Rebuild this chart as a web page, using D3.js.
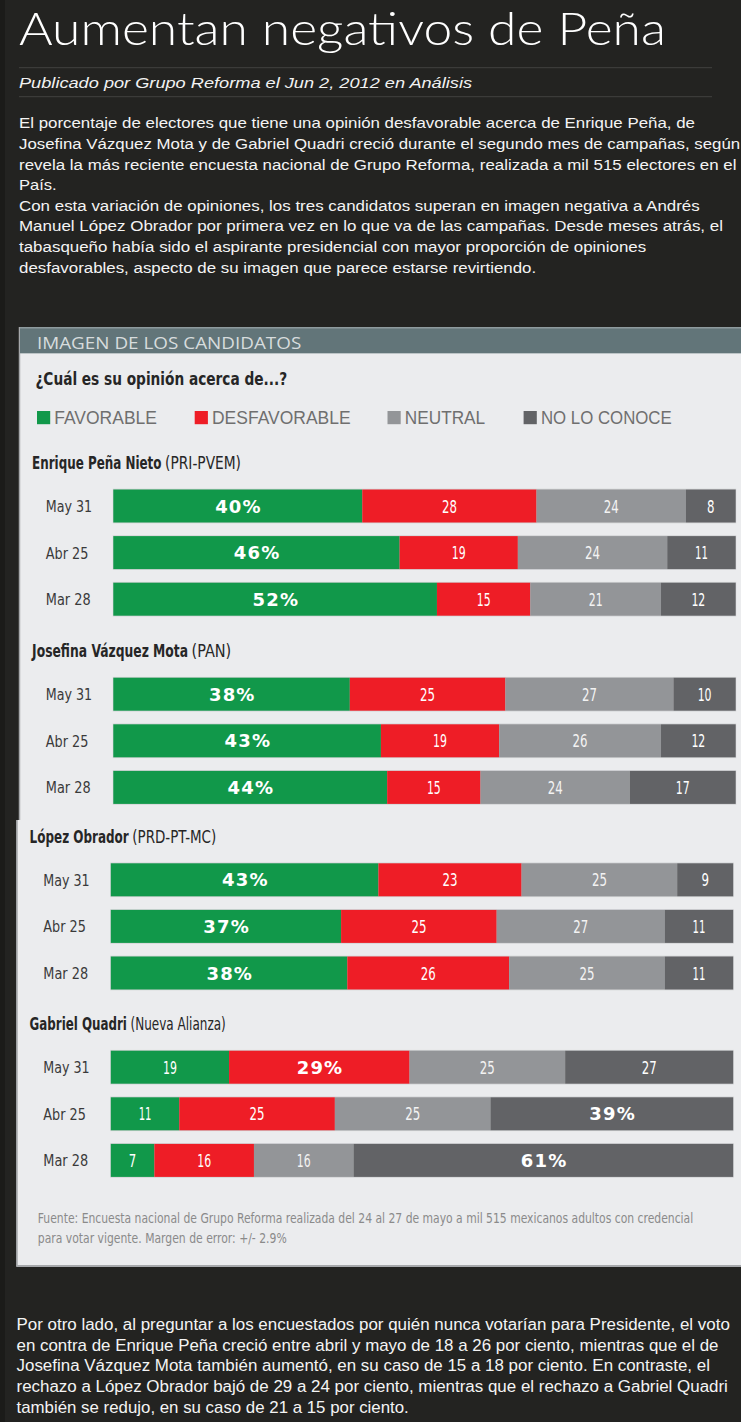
<!DOCTYPE html>
<html>
<head>
<meta charset="utf-8">
<script src="https://cdn.jsdelivr.net/npm/d3@7"></script>
<style>
  body { margin: 0; background: #232321; overflow: hidden; }
</style>
</head>
<body>
<script>
// ---- data ----
var candidates = ["Enrique Peña Nieto", "Josefina Vázquez Mota", "López Obrador", "Gabriel Quadri"];
var parties = ["(PRI-PVEM)", "(PAN)", "(PRD-PT-MC)", "(Nueva Alianza)"];
var dates = ["May 31", "Abr 25", "Mar 28"];
var categories = ["FAVORABLE", "DESFAVORABLE", "NEUTRAL", "NO LO CONOCE"];
// one row per candidate, values in the order of dates
var favorable    = [[40, 46, 52], [38, 43, 44], [43, 37, 38], [19, 11, 7]];
var desfavorable = [[28, 19, 15], [25, 19, 15], [23, 25, 26], [29, 25, 16]];
var neutral      = [[24, 24, 21], [27, 26, 24], [25, 27, 25], [25, 25, 16]];
var noLoConoce   = [[8, 11, 12], [10, 12, 17], [9, 11, 11], [27, 39, 61]];

var title = "Aumentan negativos de Peña";
var byline = "Publicado por Grupo Reforma el Jun 2, 2012 en Análisis";
var intro = [
  "El porcentaje de electores que tiene una opinión desfavorable acerca de Enrique Peña, de",
  "Josefina Vázquez Mota y de Gabriel Quadri creció durante el segundo mes de campañas, según",
  "revela la más reciente encuesta nacional de Grupo Reforma, realizada a mil 515 electores en el",
  "País.",
  "Con esta variación de opiniones, los tres candidatos superan en imagen negativa a Andrés",
  "Manuel López Obrador por primera vez en lo que va de las campañas. Desde meses atrás, el",
  "tabasqueño había sido el aspirante presidencial con mayor proporción de opiniones",
  "desfavorables, aspecto de su imagen que parece estarse revirtiendo."
];
var outro = [
  "Por otro lado, al preguntar a los encuestados por quién nunca votarían para Presidente, el voto",
  "en contra de Enrique Peña creció entre abril y mayo de 18 a 26 por ciento, mientras que el de",
  "Josefina Vázquez Mota también aumentó, en su caso de 15 a 18 por ciento. En contraste, el",
  "rechazo a López Obrador bajó de 29 a 24 por ciento, mientras que el rechazo a Gabriel Quadri",
  "también se redujo, en su caso de 21 a 15 por ciento."
];
var source = [
  "Fuente: Encuesta nacional de Grupo Reforma realizada del 24 al 27 de mayo a mil 515 mexicanos adultos con credencial",
  "para votar vigente. Margen de error: +/- 2.9%"
];

// ---- layout ----
var W = 741, H = 1422;
var colors = ["#11984a", "#ee1d26", "#939598", "#626366"];
var NARROW = "'Liberation Sans Narrow','Arial Narrow','DejaVu Sans Condensed','Liberation Sans',sans-serif";
var SANS = "'Liberation Sans',Arial,sans-serif";

var sectionTop = [489.5, 677.7, 863.3, 1050.7];
var sectionDx = [0, 0, -2.5, -2.5];   // the lower half of the clipping sits a bit to the left
var nameW = [129.5, 156, 99.2, 97.4];
var partyW = [76, 39.7, 84, 95.4];
var dateW = { "May 31": 46.4, "Abr 25": 42.6, "Mar 28": 44.9 };
var introW = [676.6, 721.5, 718, 37.7, 681, 705, 627.5, 517.4];
var outroW = [713.5, 702.5, 693.5, 711.5, 392.5];
var sourceW = [656, 249];

var svg = d3.select("body").append("svg")
  .attr("width", W)
  .attr("height", H)
  .style("display", "block");

// squeeze a text horizontally so it spans w pixels (w may be a function of d, i)
function fit(sel, w) {
  sel.each(function(d, i) {
    var t = d3.select(this);
    var x0 = +t.attr("x"), y0 = +t.attr("y");
    var target = typeof w === "function" ? w(d, i) : w;
    var k = target / this.getComputedTextLength();
    t.attr("x", 0).attr("y", 0)
      .attr("transform", "translate(" + x0 + "," + y0 + ") scale(" + k + ",1)");
  });
  return sel;
}

// page
svg.append("rect").attr("width", W).attr("height", H).attr("fill", "#232321");
svg.append("rect").attr("width", 5).attr("height", H).attr("fill", "#1b1b19");

// title block
fit(svg.append("text")
  .attr("x", 19).attr("y", 45)
  .style("font-family", "Lato,'Open Sans',sans-serif")
  .style("font-weight", 300)
  .style("font-size", "45.5px")
  .style("fill", "#ffffff")
  .text(title), 647);

[67.7, 96.7].forEach(function(y) {
  svg.append("line")
    .attr("x1", 19).attr("x2", 712)
    .attr("y1", y).attr("y2", y)
    .style("stroke", "#3b3b39")
    .style("stroke-width", 1.2);
});

fit(svg.append("text")
  .attr("x", 19).attr("y", 88)
  .style("font-family", SANS)
  .style("font-style", "italic")
  .style("font-size", "15px")
  .style("fill", "#f2f2f2")
  .text(byline), 453.6);

fit(svg.append("g").selectAll("text")
  .data(intro)
  .enter().append("text")
    .attr("x", 19)
    .attr("y", function(d, i) { return 128.3 + i * 20.6; })
    .style("font-family", SANS)
    .style("font-size", "14.5px")
    .style("fill", "#f4f4f4")
    .text(function(d) { return d; }),
  function(d, i) { return introW[i]; });

// ---- panel ----
var panelFill = "#ebecee";
var panelEdge = "#a6a8ab";

svg.append("rect")
  .attr("x", 19).attr("y", 327)
  .attr("width", W).attr("height", 820 - 327)
  .attr("fill", panelFill);
svg.append("rect")
  .attr("x", 16.5).attr("y", 820)
  .attr("width", W).attr("height", 1266.5 - 820)
  .attr("fill", panelFill);
svg.append("line")
  .attr("x1", 19.5).attr("x2", 19.5).attr("y1", 327).attr("y2", 820)
  .style("stroke", panelEdge).style("stroke-width", 1.5);
svg.append("line")
  .attr("x1", 17).attr("x2", 17).attr("y1", 820).attr("y2", 1266.5)
  .style("stroke", panelEdge).style("stroke-width", 1.5);
svg.append("line")
  .attr("x1", 16.5).attr("x2", W).attr("y1", 1266).attr("y2", 1266)
  .style("stroke", panelEdge).style("stroke-width", 2);

// header strip
svg.append("rect")
  .attr("x", 20).attr("y", 327)
  .attr("width", W).attr("height", 26.5)
  .attr("fill", "#8e9b9e");
svg.append("rect")
  .attr("x", 20).attr("y", 328.5)
  .attr("width", W).attr("height", 24.5)
  .attr("fill", "#627579");
fit(svg.append("text")
  .attr("x", 36.9).attr("y", 348.7)
  .style("font-family", "'Open Sans',sans-serif")
  .style("font-weight", 500)
  .style("font-size", "17px")
  .style("fill", "#d7dcdd")
  .text("IMAGEN DE LOS CANDIDATOS"), 264.6);

fit(svg.append("text")
  .attr("x", 35.4).attr("y", 385)
  .style("font-family", NARROW)
  .style("font-weight", "bold")
  .style("font-size", "18px")
  .style("fill", "#262626")
  .text("¿Cuál es su opinión acerca de...?"), 252);

// legend
var legendX = [37, 194.7, 387.5, 523.6];
var legendW = [102.7, 138.7, 80.4, 131];
var legend = svg.append("g").selectAll("g")
  .data(categories)
  .enter().append("g")
    .attr("transform", function(d, i) { return "translate(" + legendX[i] + ",0)"; });
legend.append("rect")
  .attr("x", 0).attr("y", 411)
  .attr("width", 13.2).attr("height", 13.2)
  .attr("fill", function(d, i) { return colors[i]; });
fit(legend.append("text")
  .attr("x", 17.3).attr("y", 424.3)
  .style("font-family", SANS)
  .style("font-size", "18px")
  .style("fill", "#6f6f6f")
  .text(function(d) { return d; }),
  function(d, i) { return legendW[i]; });

// ---- bars ----
var x = d3.scaleLinear().domain([0, 100]).range([113.3, 735.7]);
var rowStep = 46.6, barH = 33;

var table = [];
candidates.forEach(function(c, s) {
  dates.forEach(function(dt, r) {
    var row = { section: s, date: dt };
    row[categories[0]] = favorable[s][r];
    row[categories[1]] = desfavorable[s][r];
    row[categories[2]] = neutral[s][r];
    row[categories[3]] = noLoConoce[s][r];
    table.push(row);
  });
});
var series = d3.stack().keys(categories)(table);

function digitWidth(str) {
  var w = 0;
  for (var i = 0; i < str.length; i++) w += str[i] === "1" ? 6.4 : 7.5;
  return w;
}

candidates.forEach(function(c, s) {
  var top = sectionTop[s], dx = sectionDx[s];
  var y = d3.scaleBand()
    .domain(dates)
    .range([top, top + 2 * rowStep + barH])
    .paddingInner((rowStep - barH) / rowStep)
    .paddingOuter(0);

  var g = svg.append("g").attr("transform", "translate(" + dx + ",0)");

  // candidate heading
  fit(g.append("text")
    .attr("x", 32.1).attr("y", top - 20.5)
    .style("font-family", NARROW)
    .style("font-weight", "bold")
    .style("font-size", "17px")
    .style("fill", "#262626")
    .text(c), nameW[s]);
  fit(g.append("text")
    .attr("x", 32.1 + nameW[s] + 3.5).attr("y", top - 20.5)
    .style("font-family", NARROW)
    .style("font-size", "17px")
    .style("fill", "#262626")
    .text(parties[s]), partyW[s]);

  // date labels
  fit(g.selectAll(".date")
    .data(dates)
    .enter().append("text")
      .attr("class", "date")
      .attr("x", 45.8)
      .attr("y", function(d) { return y(d) + y.bandwidth() / 2 + 6; })
      .style("font-family", NARROW)
      .style("font-size", "16px")
      .style("fill", "#3a3a3a")
      .text(function(d) { return d; }),
    function(d) { return dateW[d]; });

  // faint outline round every bar
  g.selectAll(".outline")
    .data(dates)
    .enter().append("rect")
      .attr("class", "outline")
      .attr("x", x(0) - 0.5)
      .attr("y", function(d) { return y(d) - 0.8; })
      .attr("width", x(100) - x(0) + 1)
      .attr("height", y.bandwidth() + 1.6)
      .attr("fill", "#d2d3d5");

  series.forEach(function(ser, k) {
    var pts = ser.filter(function(d) { return d.data.section === s; });
    g.selectAll(".seg" + k)
      .data(pts)
      .enter().append("rect")
        .attr("class", "seg" + k)
        .attr("x", function(d) { return x(d[0]); })
        .attr("y", function(d) { return y(d.data.date); })
        .attr("width", function(d) { return x(d[1]) - x(d[0]); })
        .attr("height", y.bandwidth())
        .attr("fill", colors[k]);
  });

  // value labels: the biggest share of each row is printed with a percent sign
  series.forEach(function(ser, k) {
    var pts = ser.filter(function(d) { return d.data.section === s; });
    pts.forEach(function(d) {
      var v = d[1] - d[0];
      var row = d.data;
      var max = d3.max(categories, function(cat) { return row[cat]; });
      var cx = (x(d[0]) + x(d[1])) / 2;
      var cy = y(row.date) + y.bandwidth() / 2;
      if (v === max) {
        g.append("text")
          .attr("x", cx + 0.7).attr("y", cy + 6.6)
          .attr("text-anchor", "middle")
          .style("font-family", "'DejaVu Sans',Verdana,sans-serif")
          .style("font-weight", "bold")
          .style("font-size", "18px")
          .style("letter-spacing", "1.2px")
          .style("fill", "#ffffff")
          .text(v + "%");
      } else {
        var str = String(v);
        fit(g.append("text")
          .attr("x", cx).attr("y", cy + 6.5)
          .attr("text-anchor", "middle")
          .style("font-family", NARROW)
          .style("font-size", "18px")
          .style("fill", k === 2 ? "#f3f3f3" : "#ffffff")
          .text(str), digitWidth(str));
      }
    });
  });
});

// source note
fit(svg.append("g").selectAll("text")
  .data(source)
  .enter().append("text")
    .attr("x", 37.8)
    .attr("y", function(d, i) { return 1222.7 + i * 20; })
    .style("font-family", NARROW)
    .style("font-size", "14px")
    .style("fill", "#8a8a8a")
    .text(function(d) { return d; }),
  function(d, i) { return sourceW[i]; });

// closing paragraph
fit(svg.append("g").selectAll("text")
  .data(outro)
  .enter().append("text")
    .attr("x", 16.5)
    .attr("y", function(d, i) { return 1330 + i * 20.7; })
    .style("font-family", SANS)
    .style("font-size", "16px")
    .style("fill", "#f4f4f4")
    .text(function(d) { return d; }),
  function(d, i) { return outroW[i]; });
</script>
</body>
</html>
